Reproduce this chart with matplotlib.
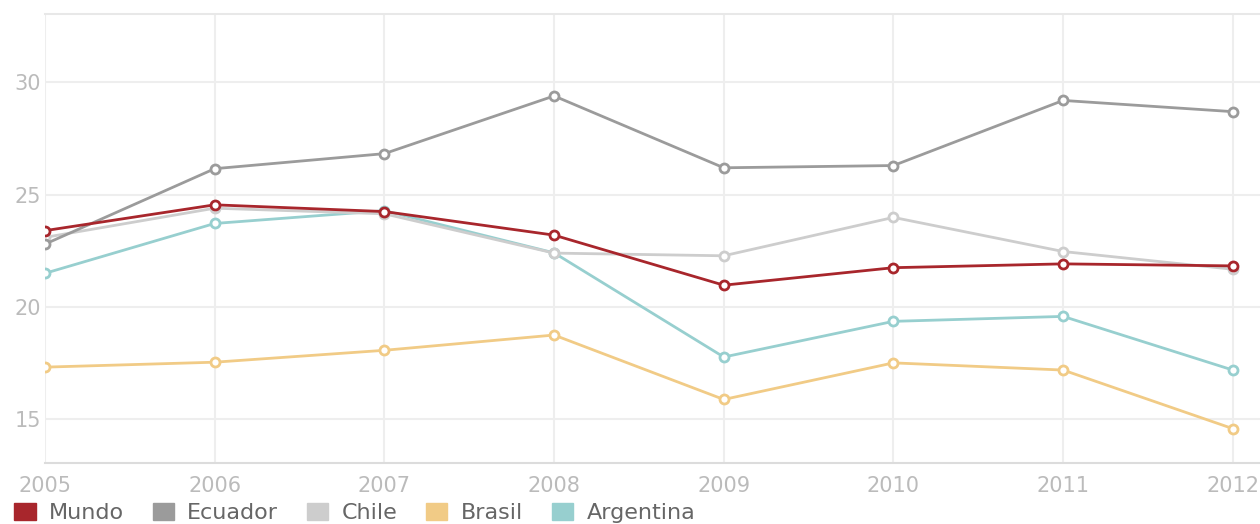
import matplotlib.pyplot as plt
from matplotlib.patches import Patch

years = [2005, 2006, 2007, 2008, 2009, 2010, 2011, 2012]
mundo = [23.4, 24.55, 24.25, 23.2, 20.97, 21.75, 21.92, 21.83]
ecuador = [22.8, 26.16, 26.83, 29.4, 26.2, 26.3, 29.2, 28.7]
chile = [23.1, 24.4, 24.15, 22.4, 22.28, 23.99, 22.47, 21.68]
brasil = [17.32, 17.54, 18.07, 18.75, 15.88, 17.51, 17.19, 14.58]
argentina = [21.5, 23.72, 24.29, 22.41, 17.77, 19.36, 19.58, 17.19]

series = [
    ("Mundo", mundo, "#a8262c"),
    ("Ecuador", ecuador, "#9b9b9b"),
    ("Chile", chile, "#cdcdcd"),
    ("Brasil", brasil, "#f1cb86"),
    ("Argentina", argentina, "#97cfcf"),
]
# draw order: bottom ones first, Mundo on top
draw_order = ["Brasil", "Argentina", "Chile", "Ecuador", "Mundo"]

fig = plt.figure(figsize=(12.6, 5.24), dpi=100)
ax = fig.add_axes([45 / 1260, 1 - 463 / 524, 1 - 45 / 1260, 449 / 524])

lookup = {name: (vals, col) for name, vals, col in series}
for i, name in enumerate(draw_order):
    vals, col = lookup[name]
    ax.plot(years, vals, color=col, lw=2, marker="o", ms=6.5,
            mfc="white", mec=col, mew=2, zorder=3 + i)

ax.set_xlim(2005, 2012.16)
ax.set_ylim(13.05, 33.05)
ax.set_yticks([15, 20, 25, 30])
ax.set_xticks(years)
ax.grid(True, color="#eeeeee", lw=1.5)
ax.set_axisbelow(True)
for side in ["left", "right"]:
    ax.spines[side].set_visible(False)
ax.spines["top"].set_color("#e8e8e8")
ax.spines["top"].set_linewidth(1.5)
ax.spines["bottom"].set_color("#dcdcdc")
ax.spines["bottom"].set_linewidth(1.5)
ax.tick_params(length=0, colors="#bbbbbb", labelsize=15)
ax.tick_params(axis="x", pad=9)
ax.tick_params(axis="y", pad=3)

handles = [Patch(facecolor=col, edgecolor=col, label=name) for name, _, col in series]
fig.legend(handles=handles, loc="center left", bbox_to_anchor=(0.0, 1 - 513 / 524),
           ncol=5, frameon=False, fontsize=16, labelcolor="#666666",
           handlelength=0.95, handleheight=0.8, handletextpad=0.6,
           columnspacing=1.3, borderaxespad=0.25)

fig.savefig("out.png", dpi=100)
